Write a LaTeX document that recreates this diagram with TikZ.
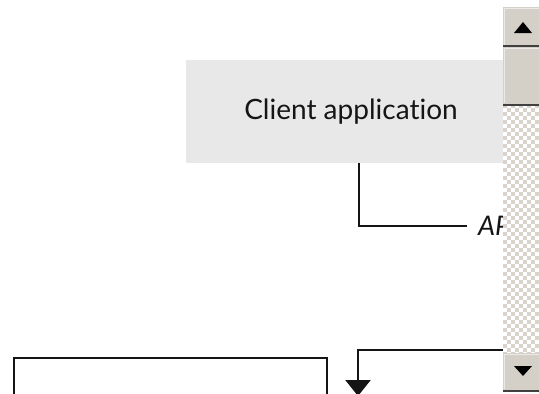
\documentclass[tikz,border=0pt]{standalone}
\usepackage{fontspec}
\setmainfont{Lato}[Ligatures=NoCommon]
\usetikzlibrary{positioning, arrows.meta}

\definecolor{boxgray}{HTML}{E8E8E8}
\definecolor{ink}{HTML}{151515}
\definecolor{btnface}{HTML}{D4D0C8}
\definecolor{btnlight}{HTML}{ECEAE6}
\definecolor{btndark}{HTML}{404040}
\definecolor{chk}{HTML}{D8D4CC}

\tikzset{
    appbox/.style   = {fill=boxgray, minimum width=330pt, minimum height=103pt, inner sep=0pt, text=ink, font=\fontsize{28}{32}\selectfont},
    srvbox/.style   = {draw=ink, line width=2.3pt, fill=white, minimum width=313pt, minimum height=100pt, inner sep=0pt},
    apilabel/.style = {inner xsep=11pt, inner ysep=0pt, text=ink, font=\fontsize{27}{30}\selectfont\itshape},
    wire/.style     = {draw=ink, line width=2.3pt},
    scrollbtn/.style= {fill=btnface},
}

\begin{document}
\begin{tikzpicture}[x=1pt, y=-1pt]
    \useasboundingbox (0,0) rectangle (539,394);

    \node[appbox]                         (client) at (351,111.5) {Client application};
    \node[apilabel, anchor=west]          (api)    at (467,226)   {API};
    \node[srvbox, anchor=north west]      (server) at (12.5,356.5) {};
    \coordinate                           (feed)   at (545,350);
    \coordinate                           (drop)   at (358,396);

    \draw[wire] ([xshift=8pt]client.south) |- (api.west);
    \draw[wire, -{Triangle[width=25pt, length=16pt]}] (feed) -| (drop);

    \fill[white] (503,104) rectangle (539,353);
    \foreach \j in {0,...,62} {
        \foreach \i in {0,...,8} {
            \pgfmathtruncatemacro\chkodd{mod(\i+\j,2)}
            \ifnum\chkodd=0
                \fill[chk] (503+4*\i,104+4*\j) rectangle ++(4,4);
            \fi
        }
    }

    \fill[scrollbtn] (503,7) rectangle (539,46);
    \draw[btnlight, line width=1pt] (504,45) |- (539,8);
    \draw[btndark, line width=2pt] (503,46) -- (539,46);
    \fill[black] (523,22) -- (532,33) -- (514,33) -- cycle;

    \fill[scrollbtn] (503,47) rectangle (539,104);
    \draw[btnlight, line width=1pt] (504,103) |- (539,48);
    \draw[btndark, line width=2pt] (503,105) -- (539,105);

    \fill[scrollbtn] (503,353) rectangle (539,390);
    \draw[btnlight, line width=1pt] (504,389) |- (539,354);
    \draw[btndark, line width=2pt] (503,391) -- (539,391);
    \fill[black] (514,366) -- (532,366) -- (523,376) -- cycle;
\end{tikzpicture}
\end{document}
